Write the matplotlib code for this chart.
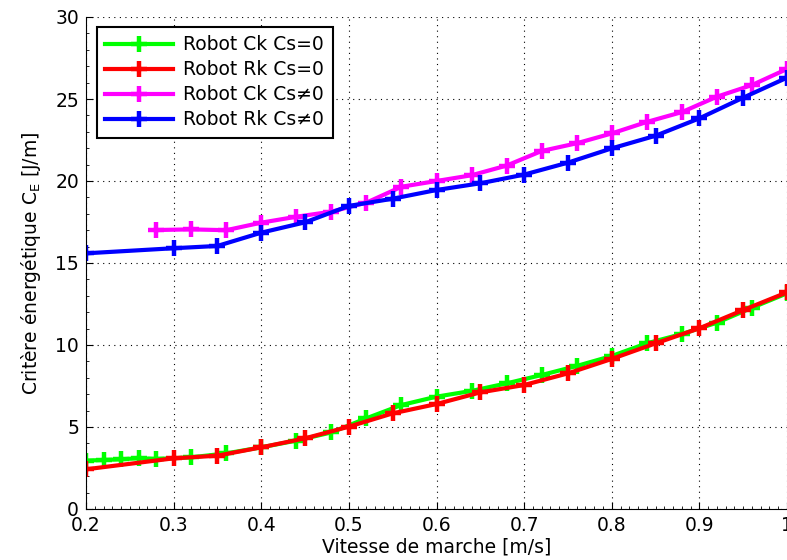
import numpy as np
import matplotlib
matplotlib.use('Agg')
import matplotlib.pyplot as plt
from matplotlib.ticker import MultipleLocator

# Robot Ck (Cs=0 and Cs!=0)
ck_speed_a = [0.2, 0.22, 0.24, 0.26, 0.28, 0.32, 0.36, 0.40, 0.44, 0.48, 0.52,
              0.56, 0.60, 0.64, 0.68, 0.72, 0.76, 0.80, 0.84, 0.88, 0.92, 0.96, 1.0]
ck_cs0 = [2.95, 2.99, 3.03, 3.1, 3.05, 3.15, 3.39, 3.76, 4.17, 4.67, 5.53,
          6.34, 6.85, 7.2, 7.66, 8.17, 8.72, 9.33, 10.1, 10.67, 11.36, 12.27, 13.15]
ck_speed_b = [0.28, 0.32, 0.36, 0.40, 0.44, 0.48, 0.52, 0.56, 0.60, 0.64, 0.68,
              0.72, 0.76, 0.80, 0.84, 0.88, 0.92, 0.96, 1.0]
ck_cs = [17.01, 17.05, 17.0, 17.46, 17.82, 18.13, 18.68, 19.65, 20.0, 20.35, 20.94,
         21.83, 22.3, 22.9, 23.6, 24.2, 25.14, 25.85, 26.83]

# Robot Rk
rk_speed = [0.2, 0.3, 0.35, 0.4, 0.45, 0.5, 0.55, 0.6, 0.65, 0.7, 0.75,
            0.8, 0.85, 0.9, 0.95, 1.0]
rk_cs0 = [2.42, 3.09, 3.25, 3.76, 4.31, 5.02, 5.83, 6.4, 7.11, 7.56, 8.27,
          9.15, 10.1, 11.02, 12.13, 13.21]
rk_cs = [15.59, 15.9, 16.04, 16.85, 17.48, 18.48, 18.92, 19.45, 19.86, 20.39, 21.12,
         21.99, 22.76, 23.82, 25.08, 26.3]

labels = ['Robot Ck Cs=0', 'Robot Rk Cs=0', 'Robot Ck Cs\u22600', 'Robot Rk Cs\u22600']
xticks = [0.2, 0.3, 0.4, 0.5, 0.6, 0.7, 0.8, 0.9, 1.0]
xticklabels = ['0.2', '0.3', '0.4', '0.5', '0.6', '0.7', '0.8', '0.9', '1']
yticks = [0, 5, 10, 15, 20, 25, 30]

plt.rcParams['font.family'] = ['DejaVu Sans']
plt.rcParams['mathtext.fontset'] = 'dejavusans'

fs = 13.5
fig = plt.figure(figsize=(7.87, 5.6), dpi=100)
ax = fig.add_axes([86 / 787, 51 / 560, 701 / 787, 492 / 560])

style = dict(linewidth=3, marker='+', markersize=12, markeredgewidth=3.2)
ax.plot(ck_speed_a, ck_cs0, color=(0, 1, 0), label=labels[0], **style)
ax.plot(rk_speed, rk_cs0, color=(1, 0, 0), label=labels[1], **style)
ax.plot(ck_speed_b, ck_cs, color=(1, 0, 1), label=labels[2], **style)
ax.plot(rk_speed, rk_cs, color=(0, 0, 1), label=labels[3], **style)

ax.set_xlim(0.2, 1.0)
ax.set_ylim(0, 30)
ax.set_xticks(xticks)
ax.set_xticklabels(xticklabels)
ax.set_yticks(yticks)
ax.xaxis.set_minor_locator(MultipleLocator(0.01))
ax.yaxis.set_minor_locator(MultipleLocator(1))
ax.tick_params(which='both', direction='in', labelsize=fs, top=False, right=False)
ax.tick_params(which='major', length=5, pad=5)
ax.tick_params(which='minor', length=2.5)
ax.spines['top'].set_visible(False)
ax.spines['right'].set_visible(False)
ax.grid(True, which='major', color='k', linestyle=(0, (1, 4)), linewidth=0.8)

ax.set_xlabel('Vitesse de marche [m/s]', fontsize=fs, labelpad=2)
ax.set_ylabel('Critère énergétique C$_\\mathregular{E}$ [J/m]', fontsize=fs, labelpad=9)

leg = ax.legend(loc='upper left', bbox_to_anchor=(0.0157, 0.98), borderaxespad=0,
                fontsize=fs, fancybox=False, edgecolor='k', framealpha=1,
                handlelength=3.6, handletextpad=0.55, labelspacing=0.32,
                borderpad=0.45)
leg.get_frame().set_linewidth(1.5)

fig.savefig('out.png', dpi=100)
